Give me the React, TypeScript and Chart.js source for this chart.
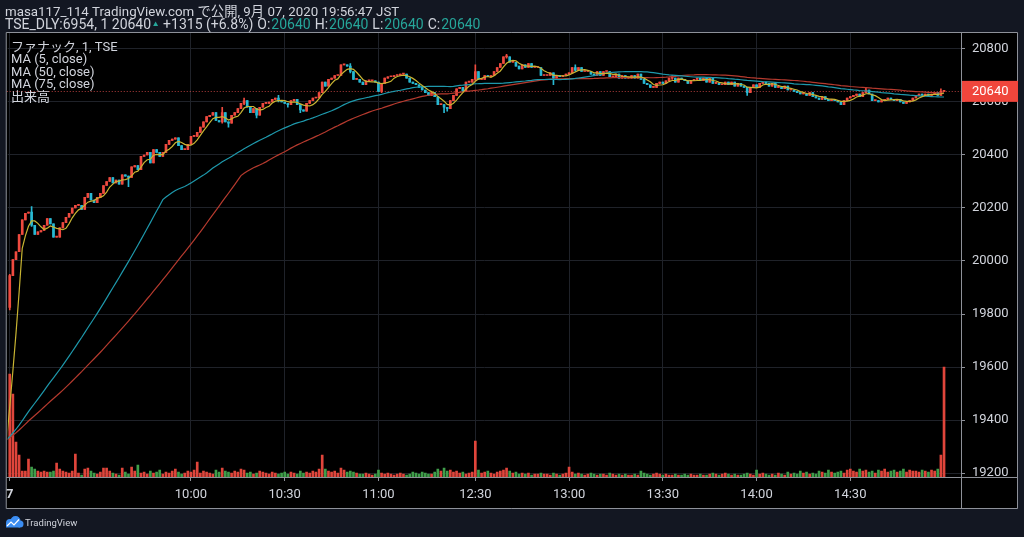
import React, { useEffect, useRef } from "react";
import { Chart, registerables } from "chart.js";

Chart.register(...registerables);

// ---- data ----
const PREV_CLOSE = 19325; // 20640 - 1315
const FIRST_OPEN = 19825;

const CLOSES: number[] = [
  19945, 20005, 20035, 20100, 20155, 20180, 20185, 20135, 20100, 20110,
  20115, 20135, 20160, 20140, 20090, 20090, 20125, 20145, 20165, 20180,
  20200, 20210, 20210, 20195, 20240, 20255, 20230, 20220, 20240, 20255,
  20285, 20300, 20315, 20295, 20305, 20290, 20325, 20320, 20315, 20355,
  20360, 20345, 20395, 20400, 20410, 20370, 20420, 20410, 20395, 20410,
  20440, 20455, 20460, 20465, 20435, 20420, 20420, 20440, 20470, 20470,
  20485, 20505, 20525, 20545, 20550, 20560, 20530, 20525, 20560, 20525,
  20520, 20550, 20560, 20575, 20595, 20605, 20580, 20560, 20575, 20550,
  20580, 20595, 20595, 20600, 20610, 20615, 20605, 20600, 20595, 20590,
  20605, 20610, 20590, 20570, 20565, 20595, 20605, 20615, 20615, 20635,
  20675, 20660, 20685, 20690, 20700, 20700, 20740, 20740, 20735, 20715,
  20685, 20685, 20675, 20665, 20680, 20680, 20680, 20675, 20640, 20670,
  20690, 20695, 20695, 20700, 20700, 20705, 20705, 20690, 20675, 20670,
  20665, 20655, 20645, 20635, 20625, 20635, 20620, 20590, 20590, 20580,
  20575, 20605, 20625, 20650, 20655, 20640, 20675, 20675, 20685, 20715,
  20685, 20685, 20700, 20695, 20700, 20715, 20730, 20745, 20770, 20770,
  20750, 20750, 20735, 20725, 20740, 20730, 20745, 20730, 20730, 20730,
  20700, 20700, 20700, 20710, 20690, 20700, 20695, 20700, 20705, 20710,
  20730, 20720, 20730, 20715, 20715, 20715, 20705, 20700, 20715, 20700,
  20715, 20715, 20695, 20695, 20705, 20690, 20700, 20690, 20690, 20700,
  20690, 20705, 20685, 20670, 20665, 20655, 20655, 20670, 20675, 20670,
  20680, 20690, 20690, 20675, 20690, 20685, 20680, 20670, 20680, 20685,
  20690, 20680, 20690, 20675, 20690, 20670, 20670, 20665, 20665, 20675,
  20665, 20675, 20660, 20670, 20660, 20655, 20635, 20655, 20665, 20655,
  20670, 20675, 20670, 20660, 20670, 20655, 20655, 20650, 20660, 20645,
  20645, 20640, 20635, 20630, 20630, 20625, 20635, 20620, 20615, 20610,
  20620, 20610, 20605, 20610, 20605, 20600, 20590, 20605, 20615, 20620,
  20625, 20630, 20620, 20635, 20645, 20630, 20605, 20605, 20600, 20605,
  20610, 20615, 20610, 20605, 20610, 20600, 20595, 20600, 20605, 20615,
  20625, 20630, 20625, 20630, 20625, 20630, 20635, 20625, 20640, 20640,
];

const VOLUMES: number[] = [
  103, 83, 35, 22, 6, 6, 18, 10, 8, 6,
  5, 6, 5, 5, 6, 14, 8, 6, 5, 4,
  6, 23, 4, 2, 8, 9, 6, 4, 3, 5,
  9, 9, 6, 4, 3, 2, 9, 5, 3, 10,
  6, 12, 4, 5, 3, 6, 4, 5, 7, 3,
  5, 4, 6, 8, 5, 3, 4, 6, 5, 7,
  15, 4, 6, 5, 4, 3, 7, 5, 9, 6,
  5, 4, 6, 5, 8, 7, 4, 5, 3, 4,
  6, 5, 4, 3, 5, 4, 3, 4, 5, 3,
  5, 4, 3, 6, 4, 5, 4, 6, 5, 8,
  22, 8, 6, 5, 6, 4, 9, 7, 5, 6,
  5, 4, 3, 3, 4, 3, 2, 3, 7, 4,
  3, 4, 3, 2, 3, 4, 3, 2, 3, 5,
  4, 3, 5, 4, 3, 3, 5, 8, 6, 9,
  6, 7, 5, 6, 4, 5, 3, 4, 5, 36,
  7, 4, 5, 6, 4, 3, 5, 6, 7, 9,
  6, 4, 5, 3, 4, 3, 4, 2, 3, 3,
  4, 3, 3, 2, 4, 3, 2, 3, 4, 10,
  5, 3, 4, 3, 2, 3, 4, 3, 2, 3,
  3, 2, 4, 3, 2, 3, 2, 3, 2, 2,
  3, 2, 6, 4, 3, 2, 3, 4, 3, 2,
  3, 2, 2, 3, 2, 2, 3, 2, 3, 2,
  2, 3, 2, 2, 3, 4, 3, 2, 3, 4,
  3, 2, 3, 2, 2, 3, 4, 3, 2, 7,
  3, 4, 3, 2, 3, 2, 4, 3, 2, 5,
  3, 4, 3, 6, 4, 5, 3, 4, 3, 6,
  5, 4, 7, 5, 4, 5, 6, 4, 7, 8,
  6, 5, 8, 6, 7, 5, 6, 4, 7, 6,
  8, 5, 6, 7, 5, 6, 8, 5, 7, 6,
  6, 5, 7, 6, 5, 7, 6, 8, 22, 110,
];

// notable wicks: [bar index, high, low]
const WICKS: [number, number, number][] = [
  [0, 19950, 19815], [7, 20205, 20130], [38, 20320, 20280], [68, 20580, 20520],
  [70, 20525, 20505], [75, 20615, 20590], [79, 20575, 20540], [86, 20625, 20600],
  [89, 20595, 20580], [93, 20590, 20560], [109, 20745, 20710], [119, 20670, 20635],
  [139, 20590, 20560], [140, 20580, 20565], [149, 20740, 20680], [159, 20780, 20765],
  [174, 20710, 20665], [181, 20740, 20715], [212, 20700, 20685], [236, 20655, 20625],
  [274, 20655, 20635], [298, 20650, 20625],
];

const X_TICK_INDEX = [0, 58, 88, 118, 149, 179, 209, 239, 269];
const X_TICK_LABELS = ["7", "10:00", "10:30", "11:00", "12:30", "13:00", "13:30", "14:00", "14:30"];
const Y_TICKS = [19200, 19400, 19600, 19800, 20000, 20200, 20400, 20600, 20800];
const MA_PERIODS = [5, 50, 75];
const MA_COLORS = ["#c8b432", "#1e98ab", "#b53a2e"];

const HEADER_LINE = "masa117_114 TradingView.com で公開, 9月 07, 2020 19:56:47 JST";
const SYMBOL_TEXT = "TSE_DLY:6954, 1 20640";
const CHANGE_TEXT = "+1315 (+6.8%)";
const OHLC_LABELS = ["O:", "H:", "L:", "C:"];
const OHLC_VALUES = ["20640", "20640", "20640", "20640"];
const LEGEND_LINES = ["ファナック, 1, TSE", "MA (5, close)", "MA (50, close)", "MA (75, close)", "出来高"];
const LAST_PRICE = 20640;

// ---- style ----
const NAVY = "#131722";
const TEXT = "#d1d4dc";
const TEAL = "#26a69a";
const UP = "#ef4a3f";
const DOWN = "#28b8d2";
const VOL_UP = "#e0453b";
const VOL_DOWN = "#3f9e4a";
const GRID = "#1f2229";
const FRAME = "#8e9199";
const FONT = "Roboto, 'Noto Sans CJK JP', sans-serif";

export default function App() {
  const ref = useRef<HTMLCanvasElement>(null);

  useEffect(() => {
    document.body.style.margin = "0";
    document.body.style.background = NAVY;
    const canvas = ref.current;
    if (!canvas) return;

    const opens = CLOSES.map((c, i) => (i === 0 ? FIRST_OPEN : CLOSES[i - 1]));
    const wickMap = new Map<number, [number, number]>();
    WICKS.forEach(([i, h, l]) => wickMap.set(i, [h, l]));
    const highs = CLOSES.map((c, i) => {
      const w = wickMap.get(i);
      return Math.max(c, opens[i], w ? w[0] : c);
    });
    const lows = CLOSES.map((c, i) => {
      const w = wickMap.get(i);
      return Math.min(c, opens[i], w ? w[1] : c);
    });
    const up = CLOSES.map((c, i) => c >= opens[i]);

    const sma = (p: number) => {
      const series = [...new Array(p).fill(PREV_CLOSE), ...CLOSES];
      const out: { x: number; y: number }[] = [];
      for (let i = -1; i < CLOSES.length; i++) {
        const end = p + i;
        let s = 0;
        for (let k = end - p + 1; k <= end; k++) s += series[k];
        out.push({ x: i, y: s / p });
      }
      return out;
    };

    const decor = {
      id: "decor",
      beforeDraw(chart: any) {
        const { ctx, chartArea: a } = chart;
        ctx.save();
        ctx.fillStyle = NAVY;
        ctx.fillRect(0, 0, chart.width, chart.height);
        ctx.fillStyle = "#000";
        ctx.fillRect(a.left - 1.5, a.top, a.right + 56 - (a.left - 1.5), a.bottom + 32 - a.top);
        ctx.restore();
      },
      beforeDatasetsDraw(chart: any) {
        const { ctx, chartArea: a } = chart;
        const y = Math.round(chart.scales.y.getPixelForValue(LAST_PRICE)) + 0.5;
        ctx.save();
        ctx.strokeStyle = "rgba(239,83,80,0.75)";
        ctx.lineWidth = 1;
        ctx.setLineDash([1, 2]);
        ctx.beginPath();
        ctx.moveTo(a.left - 1, y);
        ctx.lineTo(a.right, y);
        ctx.stroke();
        ctx.restore();
      },
      afterDraw(chart: any) {
        const { ctx, chartArea: a } = chart;
        const L = a.left - 1.5, R = a.right + 56.5, T = a.top + 0.5, B = a.bottom + 31.5;
        ctx.save();
        // frame
        ctx.strokeStyle = FRAME;
        ctx.lineWidth = 1;
        ctx.beginPath();
        ctx.rect(L, T, R - L, B - T);
        ctx.moveTo(a.right + 0.5, T);
        ctx.lineTo(a.right + 0.5, B);
        ctx.moveTo(L, a.bottom + 0.5);
        ctx.lineTo(R, a.bottom + 0.5);
        ctx.stroke();

        // last price box
        const py = chart.scales.y.getPixelForValue(LAST_PRICE);
        ctx.fillStyle = "#f0463c";
        ctx.fillRect(a.right + 1, py - 10.5, 56, 21);
        ctx.fillStyle = "#ffffff";
        ctx.font = `13px ${FONT}`;
        ctx.textAlign = "left";
        ctx.textBaseline = "middle";
        ctx.fillText(String(LAST_PRICE), a.right + 11, py + 0.5);

        // header
        ctx.textBaseline = "alphabetic";
        ctx.fillStyle = TEXT;
        ctx.font = `13.3px ${FONT}`;
        ctx.fillText(HEADER_LINE, 5, 16);
        ctx.font = `14px ${FONT}`;
        let x = 5;
        ctx.fillText(SYMBOL_TEXT, x, 29);
        x += ctx.measureText(SYMBOL_TEXT).width + 2;
        ctx.fillStyle = TEAL;
        ctx.beginPath();
        ctx.moveTo(x, 26);
        ctx.lineTo(x + 5, 26);
        ctx.lineTo(x + 2.5, 21.5);
        ctx.closePath();
        ctx.fill();
        x += 10;
        ctx.fillStyle = TEXT;
        ctx.fillText(CHANGE_TEXT, x, 29);
        x += ctx.measureText(CHANGE_TEXT).width;
        OHLC_LABELS.forEach((lab, k) => {
          x += 4;
          ctx.fillStyle = TEXT;
          ctx.fillText(lab, x, 29);
          x += ctx.measureText(lab).width + 1;
          ctx.fillStyle = TEAL;
          ctx.fillText(OHLC_VALUES[k], x, 29);
          x += ctx.measureText(OHLC_VALUES[k]).width;
        });

        // legend
        ctx.font = `13px ${FONT}`;
        ctx.fillStyle = TEXT;
        LEGEND_LINES.forEach((t, k) => {
          ctx.fillText(t, 11, 51 + k * 12.4);
        });

        // logo
        ctx.fillStyle = "#3b8df2";
        ctx.beginPath();
        ctx.arc(10, 523, 4, 0, Math.PI * 2);
        ctx.arc(15.5, 521, 5, 0, Math.PI * 2);
        ctx.fill();
        ctx.beginPath();
        ctx.arc(20, 524, 3.5, 0, Math.PI * 2);
        ctx.fill();
        ctx.fillRect(6, 523, 14, 4.5);
        ctx.strokeStyle = "#ffffff";
        ctx.lineWidth = 1.2;
        ctx.beginPath();
        ctx.moveTo(7, 526);
        ctx.lineTo(11, 522);
        ctx.lineTo(14, 525);
        ctx.lineTo(19, 519.5);
        ctx.stroke();
        ctx.fillStyle = TEXT;
        ctx.font = `9.5px ${FONT}`;
        ctx.fillText("TradingView", 25, 526);
        ctx.restore();
      },
    };

    const chart = new Chart(canvas, {
      type: "bar",
      data: {
        datasets: [
          {
            type: "line",
            label: "MA5",
            data: sma(MA_PERIODS[0]),
            borderColor: MA_COLORS[0],
            borderWidth: 1.2,
            pointRadius: 0,
            order: 0,
          } as any,
          {
            type: "line",
            label: "MA50",
            data: sma(MA_PERIODS[1]),
            borderColor: MA_COLORS[1],
            borderWidth: 1.2,
            pointRadius: 0,
            order: 1,
          } as any,
          {
            type: "line",
            label: "MA75",
            data: sma(MA_PERIODS[2]),
            borderColor: MA_COLORS[2],
            borderWidth: 1.2,
            pointRadius: 0,
            order: 2,
          } as any,
          {
            type: "bar",
            label: "body",
            data: CLOSES.map((c, i) => ({ x: i, y: [opens[i], c] })),
            backgroundColor: up.map((u) => (u ? UP : DOWN)),
            barThickness: 2,
            minBarLength: 1,
            grouped: false,
            order: 3,
          } as any,
          {
            type: "bar",
            label: "wick",
            data: CLOSES.map((_, i) => ({ x: i, y: [lows[i], highs[i]] })),
            backgroundColor: up.map((u) => (u ? UP : DOWN)),
            barThickness: 1,
            grouped: false,
            order: 4,
          } as any,
          {
            type: "bar",
            label: "volume",
            yAxisID: "vol",
            data: VOLUMES.map((v, i) => ({ x: i, y: v })),
            backgroundColor: up.map((u) => (u ? VOL_UP : VOL_DOWN)),
            barThickness: 2,
            grouped: false,
            order: 5,
          } as any,
        ],
      },
      options: {
        responsive: false,
        maintainAspectRatio: false,
        devicePixelRatio: 1,
        animation: false,
        events: [],
        layout: { padding: { left: 6, top: 32, right: 7, bottom: 28 } },
        plugins: { legend: { display: false }, tooltip: { enabled: false } },
        scales: {
          x: {
            type: "linear",
            position: "bottom",
            offset: false,
            min: -0.64,
            max: 304.43,
            afterBuildTicks: (s: any) => {
              s.ticks = X_TICK_INDEX.map((v) => ({ value: v }));
            },
            afterFit: (s: any) => {
              s.height = 32;
            },
            ticks: {
              autoSkip: false,
              maxRotation: 0,
              padding: 6,
              color: TEXT,
              font: (c: any) => ({
                family: FONT,
                size: 13,
                weight: c.tick && c.tick.value === X_TICK_INDEX[0] ? "bold" : "normal",
              }),
              callback: (v: any) => {
                const k = X_TICK_INDEX.indexOf(Number(v));
                return k >= 0 ? X_TICK_LABELS[k] : "";
              },
            },
            grid: { offset: false, color: GRID, tickLength: 4, tickColor: FRAME },
            border: { display: false },
          },
          y: {
            type: "linear",
            position: "right",
            min: 19185,
            max: 20864,
            afterBuildTicks: (s: any) => {
              s.ticks = Y_TICKS.map((v) => ({ value: v }));
            },
            afterFit: (s: any) => {
              s.width = 56;
            },
            ticks: {
              padding: 7,
              color: TEXT,
              font: { family: FONT, size: 13 },
              crossAlign: "near",
              callback: (v: any) => String(v),
            },
            grid: { color: GRID, tickLength: 4, tickColor: FRAME },
            border: { display: false },
          },
          vol: {
            type: "linear",
            display: false,
            min: 0,
            max: 445,
          },
        },
      } as any,
      plugins: [decor],
    });

    return () => chart.destroy();
  }, []);

  return (
    <div style={{ position: "absolute", left: 0, top: 0, width: 1024, height: 537 }}>
      <canvas ref={ref} width={1024} height={537} style={{ display: "block" }} />
    </div>
  );
}
